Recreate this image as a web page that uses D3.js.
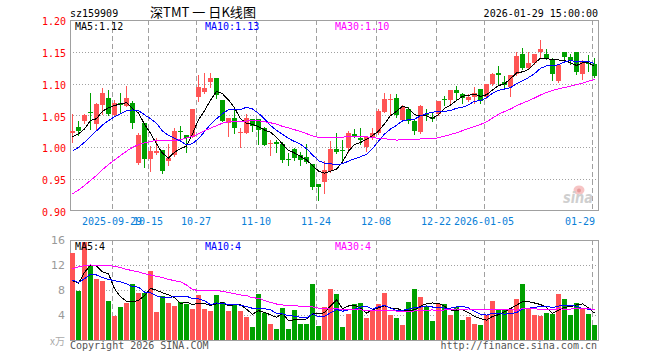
<!DOCTYPE html>
<html>
<head>
<meta charset="utf-8">
<script src="https://cdn.jsdelivr.net/npm/d3@7"></script>
<style>
  html, body { margin: 0; padding: 0; background: #fff; }
  svg { display: block; font-family: "DejaVu Sans Mono", monospace; }
</style>
</head>
<body>
<div id="chart"></div>
<script>
// trading days shown (sz159909 daily K)
const dates = [
  "2025-09-18","2025-09-19","2025-09-22","2025-09-23","2025-09-24","2025-09-25","2025-09-26","2025-09-29","2025-09-30",
  "2025-10-09","2025-10-10","2025-10-13","2025-10-14","2025-10-15","2025-10-16","2025-10-17","2025-10-20","2025-10-21",
  "2025-10-22","2025-10-23","2025-10-24","2025-10-27","2025-10-28","2025-10-29","2025-10-30","2025-10-31",
  "2025-11-03","2025-11-04","2025-11-05","2025-11-06","2025-11-07","2025-11-10","2025-11-11","2025-11-12","2025-11-13",
  "2025-11-14","2025-11-17","2025-11-18","2025-11-19","2025-11-20","2025-11-21","2025-11-24","2025-11-25","2025-11-26",
  "2025-11-27","2025-11-28","2025-12-01","2025-12-02","2025-12-03","2025-12-04","2025-12-05","2025-12-08","2025-12-09",
  "2025-12-10","2025-12-11","2025-12-12","2025-12-15","2025-12-16","2025-12-17","2025-12-18","2025-12-19","2025-12-22",
  "2025-12-23","2025-12-24","2025-12-25","2025-12-26","2025-12-29","2025-12-30","2025-12-31","2026-01-05","2026-01-06",
  "2026-01-07","2026-01-08","2026-01-09","2026-01-12","2026-01-13","2026-01-14","2026-01-15","2026-01-16","2026-01-19",
  "2026-01-20","2026-01-21","2026-01-22","2026-01-23","2026-01-26","2026-01-27","2026-01-28","2026-01-29"
];

const open = [
  1.022,1.032,1.041,1.056,1.036,1.067,1.078,1.051,1.069,1.065,
  1.070,0.976,1.038,0.981,0.991,0.996,0.979,0.988,1.025,1.019,
  1.017,1.079,1.087,1.103,1.109,1.074,1.039,1.046,1.022,1.023,
  1.044,1.044,1.031,1.005,1.009,1.006,0.982,0.997,0.988,0.985,
  0.974,0.942,0.946,0.963,0.997,0.996,0.999,1.021,1.014,1.001,
  1.016,1.022,1.056,1.074,1.078,1.043,1.060,1.042,1.024,1.053,
  1.048,1.052,1.076,1.074,1.090,1.083,1.074,1.079,1.091,1.079,
  1.099,1.116,1.103,1.094,1.115,1.146,1.124,1.132,1.149,1.146,
  1.138,1.104,1.150,1.142,1.150,1.115,1.132,1.131
];
const high = [
  1.052,1.041,1.053,1.086,1.070,1.093,1.090,1.074,1.085,1.097,
  1.073,1.022,1.039,1.002,1.014,0.996,1.005,1.031,1.034,1.020,
  1.060,1.114,1.116,1.116,1.109,1.075,1.046,1.060,1.030,1.052,
  1.045,1.045,1.032,1.012,1.012,1.009,0.991,0.999,0.993,1.005,
  0.974,0.942,0.979,1.010,1.022,1.012,1.025,1.029,1.031,1.018,
  1.031,1.060,1.085,1.083,1.084,1.067,1.063,1.043,1.067,1.060,
  1.056,1.072,1.081,1.090,1.097,1.085,1.084,1.095,1.091,1.100,
  1.116,1.127,1.112,1.114,1.150,1.156,1.150,1.147,1.168,1.154,
  1.140,1.131,1.150,1.147,1.150,1.137,1.145,1.141
];
const low = [
  1.009,1.020,1.039,1.029,1.029,1.052,1.050,1.050,1.055,1.065,
  1.030,0.974,0.969,0.963,0.989,0.960,0.972,0.987,1.013,0.993,
  1.016,1.073,1.086,1.095,1.077,1.041,1.018,1.022,1.001,1.022,
  1.026,1.005,1.003,0.988,0.993,0.977,0.972,0.980,0.972,0.975,
  0.934,0.918,0.929,0.962,0.991,0.979,0.992,1.016,1.005,0.995,
  1.013,1.021,1.056,1.052,1.048,1.042,1.039,1.021,1.023,1.043,
  1.042,1.051,1.067,1.069,1.074,1.069,1.072,1.069,1.069,1.078,
  1.098,1.099,1.094,1.081,1.114,1.123,1.123,1.131,1.141,1.138,
  1.106,1.103,1.136,1.131,1.115,1.107,1.120,1.110
];
const close = [
  1.026,1.026,1.051,1.054,1.068,1.085,1.052,1.069,1.067,1.077,
  1.038,1.019,0.981,0.995,0.995,0.963,0.983,1.025,1.024,1.014,
  1.060,1.095,1.093,1.109,1.082,1.042,1.046,1.031,1.024,1.046,
  1.034,1.028,1.004,1.007,1.006,0.980,0.980,0.983,0.980,0.977,
  0.937,0.937,0.965,0.997,0.992,0.994,1.022,1.018,1.012,1.017,
  1.023,1.057,1.076,1.076,1.050,1.064,1.041,1.026,1.065,1.051,
  1.044,1.072,1.075,1.090,1.086,1.078,1.079,1.085,1.072,1.099,
  1.115,1.114,1.098,1.113,1.144,1.124,1.132,1.146,1.155,1.140,
  1.115,1.130,1.142,1.137,1.119,1.136,1.131,1.112
];
// volume, x万
const volume = [
  14.0,7.9,15.7,11.8,9.7,9.4,6.3,3.9,5.3,6.0,
  9.0,7.6,7.6,11.1,4.5,7.0,6.0,5.4,6.1,5.8,
  5.0,7.2,5.0,4.6,7.2,6.1,4.6,5.6,4.6,3.7,
  2.1,7.4,4.3,2.6,1.8,5.1,1.8,4.8,2.6,2.6,
  9.0,2.2,5.3,8.2,7.4,2.1,4.2,5.8,5.9,3.5,
  4.8,5.8,7.5,4.0,3.5,2.4,6.1,8.2,6.9,5.4,
  3.0,5.8,5.8,4.0,5.3,3.2,3.7,2.6,2.4,4.0,
  6.2,5.0,5.0,5.0,6.6,9.0,5.0,4.0,3.8,4.3,
  4.2,7.4,6.6,4.0,5.9,5.0,4.2,2.4
];

// MA values at the left edge (need days before the window)
const ma5Head = [1.017, 1.021, 1.029, 1.042];
const ma10Head = [0.994, 1.000, 1.008, 1.017, 1.026, 1.035, 1.042, 1.048, 1.053];
const ma30Head = [0.927,0.933,0.940,0.948,0.956,0.965,0.973,0.980,0.987,0.994,
  1.000,1.004,1.007,1.009,1.011,1.011,1.011,1.011,1.012,1.015,
  1.017,1.021,1.026,1.030,1.034,1.038,1.040,1.041,1.041];
const vma5Head = [9.5, 9.1, 10.8, 12.0];
const vma10Head = [9.6, 9.2, 9.8, 10.5, 10.4, 10.0, 9.7, 9.5, 9.3];
const vma30Head = [11.4,11.7,11.9,12.0,11.9,11.9,11.9,11.8,11.6,11.3,
  11.1,10.9,10.6,10.4,10.2,10.0,9.7,9.5,9.3,8.8,
  8.1,7.9,7.9,7.9,7.9,7.8,7.6,7.4,7.2];

const priceTicks = [1.20, 1.15, 1.10, 1.05, 1.00, 0.95, 0.90];
const volTicks = [16, 12, 8, 4];
const tickDates = ["2025-09-29","2025-10-15","2025-10-27","2025-11-10","2025-11-24","2025-12-08","2025-12-22","2026-01-05","2026-01-29"];
const tickLabels = ["2025-09-29","10-15","10-27","11-10","11-24","12-08","12-22","2026-01-05","01-29"];

const width = 660, height = 360;
const L = 70, R = 598, T = 20, B = 211, VT = 240, VB = 340;
const RED = "#ff5555", GREEN = "#00a000", GRID = "#a0a0a0";

function movingAvg(vals, n, head) {
  return vals.map((v, i) => i >= n - 1 ? d3.mean(vals.slice(i - n + 1, i + 1)) : head[i]);
}

const svg = d3.select("#chart").append("svg")
  .attr("width", width)
  .attr("height", height)
  .attr("viewBox", `0 0 ${width} ${height}`);

const x = d3.scaleBand().domain(dates).range([L, R]).padding(0);
const y = d3.scaleLinear().domain([0.90, 1.20]).range([B, T]);
const yv = d3.scaleLinear().domain([0, 16]).range([VB, VT]);
const cx = d => x(d) + 2.5;
const px = v => Math.round(v) + 0.5;

// grids
const grid = svg.append("g").attr("shape-rendering", "crispEdges");
grid.selectAll(".hp").data(priceTicks.slice(1, -1)).join("line")
  .attr("x1", L).attr("x2", R).attr("y1", d => px(y(d))).attr("y2", d => px(y(d)))
  .attr("stroke", GRID).attr("stroke-dasharray", "1,2");
grid.selectAll(".hv").data(volTicks.slice(1)).join("line")
  .attr("class", "hv")
  .attr("x1", L).attr("x2", R).attr("y1", d => px(yv(d))).attr("y2", d => px(yv(d)))
  .attr("stroke", GRID).attr("stroke-dasharray", "1,2");
[[T, B], [VT, VB]].forEach(([a, b]) => {
  grid.append("g").selectAll("line").data(tickDates).join("line")
    .attr("x1", d => x(d) + 0.5).attr("x2", d => x(d) + 0.5)
    .attr("y1", a).attr("y2", b)
    .attr("stroke", GRID).attr("stroke-dasharray", "5,3");
});

// frames
svg.append("rect").attr("x", L + 0.5).attr("y", T + 0.5).attr("width", R - L).attr("height", B - T - 1)
  .attr("fill", "none").attr("stroke", GRID).attr("shape-rendering", "crispEdges");
svg.append("rect").attr("x", L + 0.5).attr("y", VT + 0.5).attr("width", R - L).attr("height", VB - VT)
  .attr("fill", "none").attr("stroke", GRID).attr("shape-rendering", "crispEdges");

// candles
const k = dates.map((d, i) => ({ d, o: open[i], h: high[i], l: low[i], c: close[i], v: volume[i] }));
const col = d => d.c >= d.o ? RED : GREEN;

const candles = svg.append("g").attr("shape-rendering", "crispEdges");
candles.selectAll("line").data(k).join("line")
  .attr("x1", d => cx(d.d)).attr("x2", d => cx(d.d))
  .attr("y1", d => Math.round(y(d.h))).attr("y2", d => Math.round(y(d.l)) + 1)
  .attr("stroke", col);
candles.selectAll("rect").data(k).join("rect")
  .attr("x", d => x(d.d))
  .attr("width", x.bandwidth() - 1)
  .attr("y", d => Math.round(y(Math.max(d.o, d.c))))
  .attr("height", d => Math.max(1, Math.round(y(Math.min(d.o, d.c))) - Math.round(y(Math.max(d.o, d.c)))))
  .attr("fill", col);

// volume bars
svg.append("g").attr("shape-rendering", "crispEdges")
  .selectAll("rect").data(k).join("rect")
  .attr("x", d => x(d.d))
  .attr("width", x.bandwidth() - 1)
  .attr("y", d => Math.round(yv(d.v)))
  .attr("height", d => VB - Math.round(yv(d.v)))
  .attr("fill", col);

// moving averages
const lineP = d3.line().x((d, i) => cx(dates[i])).y(d => y(d));
const lineV = d3.line().x((d, i) => cx(dates[i])).y(d => yv(d));
const maSets = [
  [movingAvg(close, 5, ma5Head), movingAvg(volume, 5, vma5Head), "#000000"],
  [movingAvg(close, 10, ma10Head), movingAvg(volume, 10, vma10Head), "#0000ff"],
  [movingAvg(close, 30, ma30Head), movingAvg(volume, 30, vma30Head), "#ff00ff"]
];
const maG = svg.append("g").attr("fill", "none").attr("stroke-width", 1).attr("shape-rendering", "crispEdges");
maSets.forEach(([p, v, c]) => {
  maG.append("path").attr("d", lineP(p)).attr("stroke", c);
  maG.append("path").attr("d", lineV(v)).attr("stroke", c);
});

// axes
svg.append("g")
  .attr("transform", `translate(${L},0)`)
  .call(d3.axisLeft(y).tickValues(priceTicks).tickSize(0).tickPadding(4).tickFormat(d3.format(".2f")))
  .call(g => g.select(".domain").remove())
  .call(g => g.selectAll("text").attr("fill", "#ff0000").attr("font-size", 10)
    .attr("font-family", "DejaVu Sans Mono").attr("dy", "0.45em"));

svg.append("g")
  .attr("transform", `translate(${L},0)`)
  .call(d3.axisLeft(yv).tickValues(volTicks).tickSize(0).tickPadding(5).tickFormat(d3.format("d")))
  .call(g => g.select(".domain").remove())
  .call(g => g.selectAll("text").attr("fill", "#999").attr("font-size", 11)
    .attr("font-family", "DejaVu Sans").attr("dy", "0.35em"));

svg.append("g")
  .attr("transform", `translate(${-x.bandwidth() / 2},${B})`)
  .call(d3.axisBottom(x).tickValues(tickDates).tickSize(0).tickPadding(7)
    .tickFormat((d, i) => tickLabels[i]))
  .call(g => g.select(".domain").remove())
  .call(g => g.selectAll("text").attr("fill", "#0a80d8").attr("font-size", 10)
    .attr("font-family", "DejaVu Sans Mono"))
  .call(g => g.selectAll(".tick:last-of-type text").attr("text-anchor", "end").attr("x", 3));

// texts
const txt = (s, tx, ty, fill, anchor, size, fam) => svg.append("text")
  .attr("x", tx).attr("y", ty).attr("fill", fill || "#000")
  .attr("text-anchor", anchor || "start")
  .attr("font-size", size || 10)
  .attr("font-family", fam || "DejaVu Sans Mono")
  .text(s);

txt("sz159909", 70, 17);
txt("深TMT 一 日K线图", 203, 17, "#000", "middle", 13, "Noto Sans CJK SC")
  .attr("textLength", 106).attr("lengthAdjust", "spacingAndGlyphs");
txt("2026-01-29 15:00:00", 598, 17, "#000", "end");

txt("MA5:1.12", 75, 30, "#000000");
txt("MA10:1.13", 205, 30, "#0000ff");
txt("MA30:1.10", 335, 30, "#ff00ff");

txt("MA5:4", 75, 250, "#000000");
txt("MA10:4", 205, 250, "#0000ff");
txt("MA30:4", 335, 250, "#ff00ff");

txt("x万", 65, 345, "#aaa", "end", 10, "Noto Sans CJK SC");
txt("Copyright 2026 SINA.COM", 70, 349, "#555");
txt("http://finance.sina.com.cn", 597, 349, "#555", "end");

// sina watermark
svg.append("ellipse").attr("cx", 579).attr("cy", 190).attr("rx", 5.5).attr("ry", 4.5)
  .attr("fill", "#f6c4c4");
svg.append("circle").attr("cx", 579).attr("cy", 190.5).attr("r", 2).attr("fill", "#e69a9a");
txt("sina", 563, 203, "#cfcfcf", "start", 15, "DejaVu Sans")
  .attr("font-weight", "bold").attr("font-style", "italic")
  .attr("textLength", 30).attr("lengthAdjust", "spacingAndGlyphs");
</script>
</body>
</html>
